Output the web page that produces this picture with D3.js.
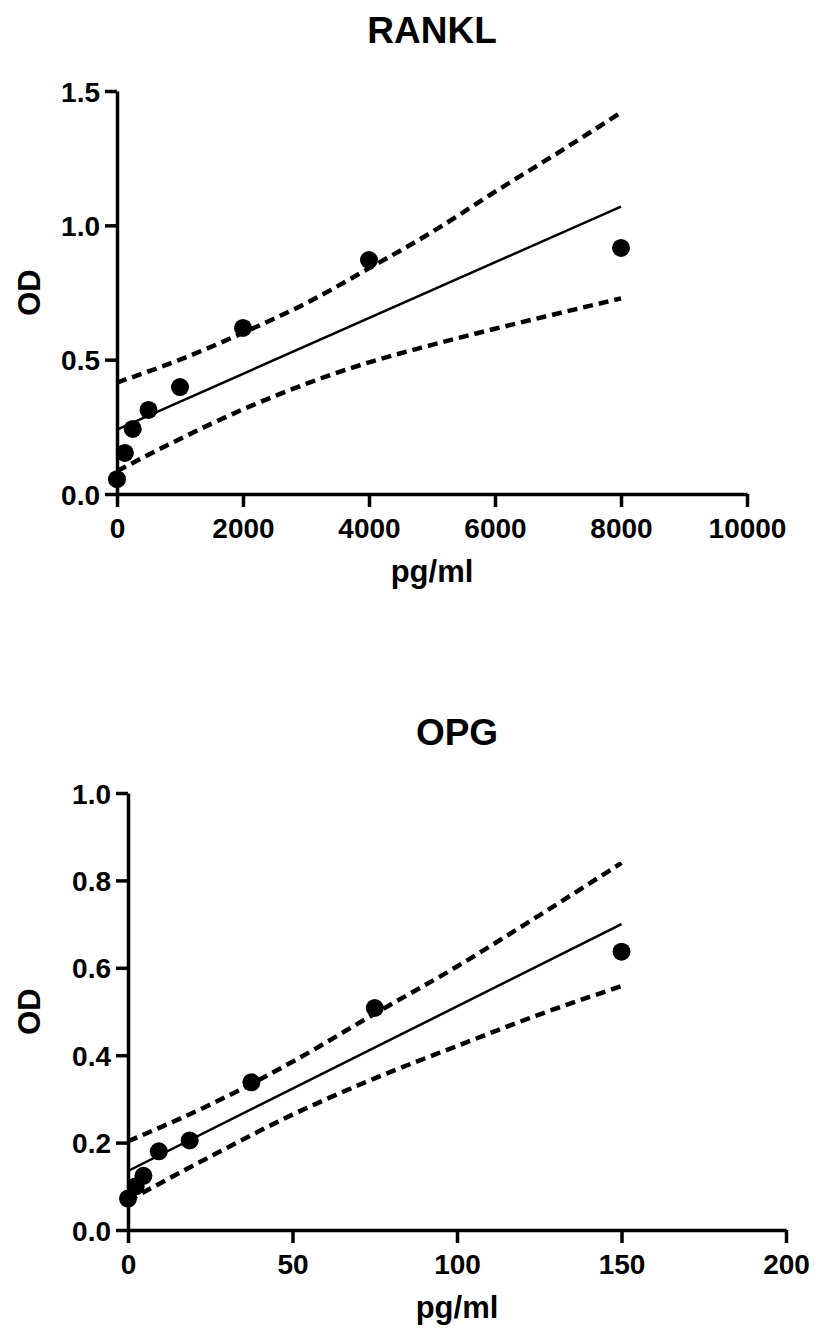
<!DOCTYPE html>
<html>
<head>
<meta charset="utf-8">
<script src="https://cdn.jsdelivr.net/npm/d3@7"></script>
<style>
  body { margin: 0; background: #fff; }
  text { font-family: "Liberation Sans", Arial, sans-serif; font-weight: bold; fill: #000; }
</style>
</head>
<body>
<svg id="chart" width="816" height="1337"></svg>
<script>
// RANKL standard curve
var rankl_conc = [0, 125, 250, 500, 1000, 2000, 4000, 8000];
var rankl_od = [0.055, 0.153, 0.242, 0.313, 0.398, 0.618, 0.871, 0.916];
var rankl_fit_x = [0, 8000];
var rankl_fit_y = [0.24, 1.07];
var rankl_band_x = [0, 1000, 2000, 3000, 4000, 5000, 6000, 7000, 8000];
var rankl_upper = [0.415, 0.50, 0.60, 0.71, 0.84, 0.975, 1.125, 1.27, 1.42];
var rankl_lower = [0.085, 0.205, 0.315, 0.41, 0.49, 0.555, 0.615, 0.672, 0.728];
var rankl_xticks = [0, 2000, 4000, 6000, 8000, 10000];
var rankl_yticks = [0, 0.5, 1.0, 1.5];

// OPG standard curve
var opg_conc = [0, 2.34, 4.69, 9.38, 18.75, 37.5, 75, 150];
var opg_od = [0.072, 0.10, 0.124, 0.18, 0.205, 0.338, 0.508, 0.637];
var opg_fit_x = [0, 150];
var opg_fit_y = [0.135, 0.70];
var opg_band_x = [0, 25, 50, 75, 100, 125, 150];
var opg_upper = [0.203, 0.287, 0.385, 0.495, 0.603, 0.72, 0.84];
var opg_lower = [0.067, 0.168, 0.264, 0.347, 0.421, 0.493, 0.558];
var opg_xticks = [0, 50, 100, 150, 200];
var opg_yticks = [0, 0.2, 0.4, 0.6, 0.8, 1.0];

var svg = d3.select("#chart");

function drawPanel(p) {
    var x = d3.scaleLinear().domain(p.xdomain).range([p.left, p.right]);
    var y = d3.scaleLinear().domain(p.ydomain).range([p.bottom, p.top]);
    var g = svg.append("g");

    // x axis
    var xa = g.append("g")
        .attr("transform", "translate(0," + p.bottom + ")")
        .call(d3.axisBottom(x).tickValues(p.xticks).tickSizeInner(13).tickSizeOuter(0).tickPadding(6).tickFormat(d3.format("d")));
    // y axis
    var ya = g.append("g")
        .attr("transform", "translate(" + p.left + ",0)")
        .call(d3.axisLeft(y).tickValues(p.yticks).tickSizeInner(12).tickSizeOuter(0).tickPadding(5).tickFormat(d3.format(".1f")));

    [xa, ya].forEach(function (a) {
        a.select(".domain").attr("stroke", "#000").attr("stroke-width", 3.5);
        a.selectAll(".tick line").attr("stroke", "#000").attr("stroke-width", 3.5);
        a.selectAll(".tick text").style("font-size", "28px").attr("fill", "#000");
    });
    xa.selectAll(".tick text").attr("dy", "0.9em");
    ya.selectAll(".tick text").attr("dy", "0.36em");

    // confidence bands
    var band = d3.line()
        .x(function (d) { return x(d[0]); })
        .y(function (d) { return y(d[1]); })
        .curve(d3.curveMonotoneX);
    [p.upper, p.lower].forEach(function (vals) {
        g.append("path")
            .datum(p.bandx.map(function (v, i) { return [v, vals[i]]; }))
            .attr("fill", "none")
            .attr("stroke", "#000")
            .attr("stroke-width", 4.5)
            .attr("stroke-dasharray", "10,6")
            .attr("d", band);
    });

    // fitted line
    g.append("path")
        .datum(p.fitx.map(function (v, i) { return [v, p.fity[i]]; }))
        .attr("fill", "none")
        .attr("stroke", "#000")
        .attr("stroke-width", 2.5)
        .attr("d", d3.line().x(function (d) { return x(d[0]); }).y(function (d) { return y(d[1]); }));

    // standards
    g.selectAll("circle.pt")
        .data(p.xs.map(function (v, i) { return [v, p.ys[i]]; }))
        .enter().append("circle")
        .attr("class", "pt")
        .attr("cx", function (d) { return x(d[0]); })
        .attr("cy", function (d) { return y(d[1]); })
        .attr("r", 9)
        .attr("fill", "#000");

    // titles
    var cx = (p.left + p.right) / 2;
    g.append("text")
        .attr("x", cx).attr("y", p.top - 48)
        .attr("text-anchor", "middle")
        .style("font-size", "37px")
        .text(p.title);
    g.append("text")
        .attr("x", cx).attr("y", p.bottom + 88)
        .attr("text-anchor", "middle")
        .style("font-size", "31px")
        .text("pg/ml");
    g.append("text")
        .attr("transform", "translate(40," + ((p.top + p.bottom) / 2) + ") rotate(-90)")
        .attr("text-anchor", "middle")
        .style("font-size", "31px")
        .text("OD");
}

drawPanel({
    title: "RANKL",
    xdomain: [0, 10000], ydomain: [0, 1.5],
    left: 117, right: 747, top: 91, bottom: 494,
    xticks: rankl_xticks, yticks: rankl_yticks,
    xs: rankl_conc, ys: rankl_od,
    fitx: rankl_fit_x, fity: rankl_fit_y,
    bandx: rankl_band_x, upper: rankl_upper, lower: rankl_lower
});

drawPanel({
    title: "OPG",
    xdomain: [0, 200], ydomain: [0, 1.0],
    left: 128, right: 786, top: 793, bottom: 1230,
    xticks: opg_xticks, yticks: opg_yticks,
    xs: opg_conc, ys: opg_od,
    fitx: opg_fit_x, fity: opg_fit_y,
    bandx: opg_band_x, upper: opg_upper, lower: opg_lower
});
</script>
</body>
</html>
